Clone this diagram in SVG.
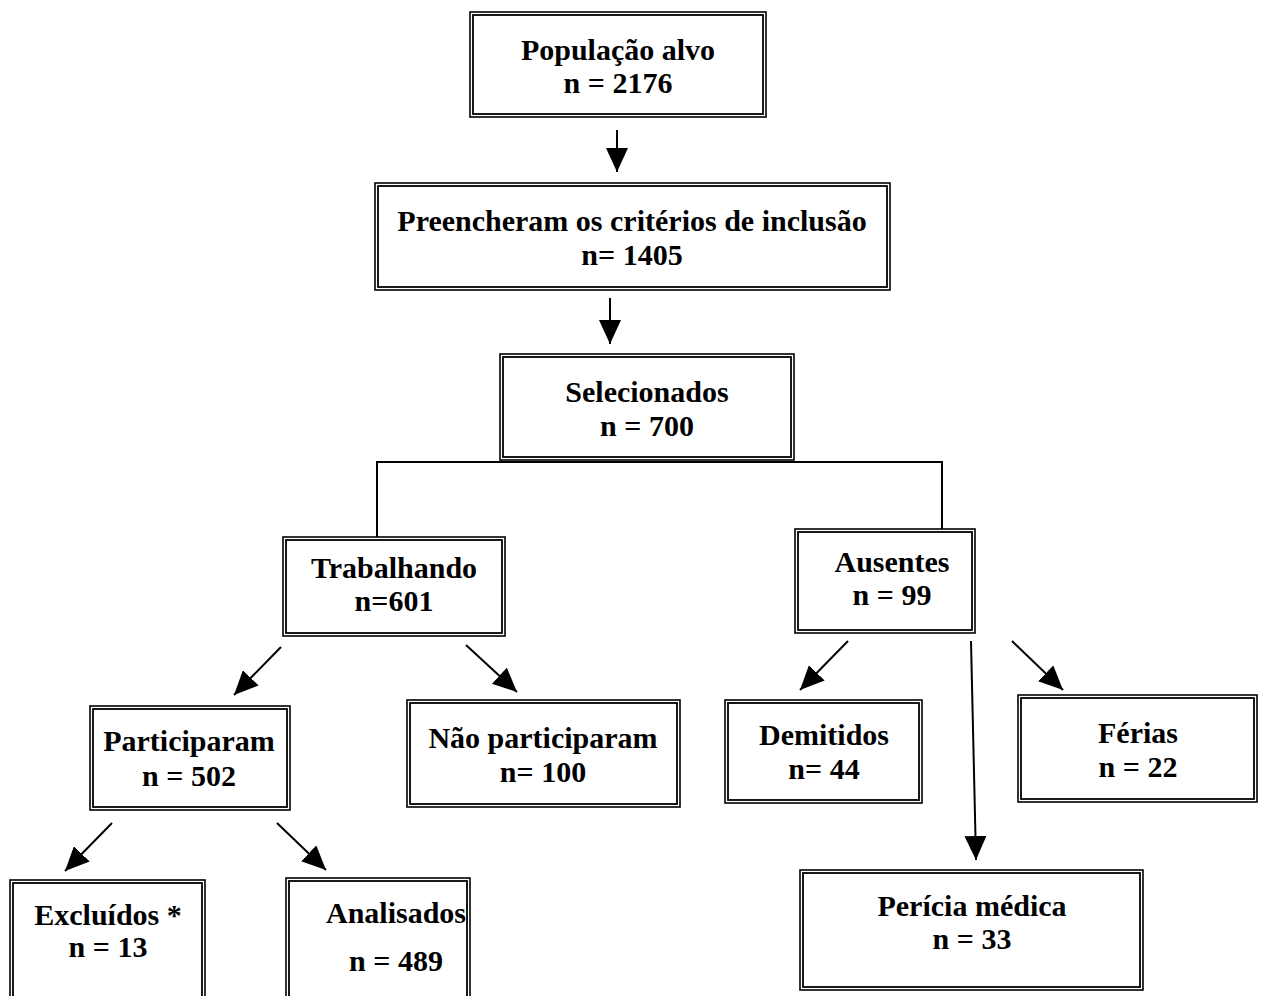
<svg xmlns="http://www.w3.org/2000/svg" width="1266" height="996" viewBox="0 0 1266 996">
<style>
.o{fill:none;stroke:#000;stroke-width:1.6}
.i{fill:none;stroke:#000;stroke-width:1.8}
.t{font-family:"Liberation Serif","Times New Roman",serif;font-weight:bold;font-size:30px;text-anchor:middle;fill:#000}
.c{fill:none;stroke:#000;stroke-width:2}
</style>
<defs>
<marker id="ah" markerUnits="userSpaceOnUse" markerWidth="26" markerHeight="22" refX="24" refY="11" orient="auto">
<path d="M0,0 L24,11 L0,22 Z" fill="#000"/>
</marker>
</defs>
<rect width="1266" height="996" fill="#fff"/>
<g id="connectors">
<line class="c" x1="617" y1="130" x2="617" y2="172" marker-end="url(#ah)"/>
<line class="c" x1="610" y1="298" x2="610" y2="344" marker-end="url(#ah)"/>
<polyline class="c" points="377,537 377,462 942,462 942,529"/>
<line class="c" x1="281" y1="647" x2="234" y2="695" marker-end="url(#ah)"/>
<line class="c" x1="466" y1="645" x2="517" y2="692" marker-end="url(#ah)"/>
<line class="c" x1="112" y1="823" x2="65" y2="871" marker-end="url(#ah)"/>
<line class="c" x1="277" y1="823" x2="326" y2="870" marker-end="url(#ah)"/>
<line class="c" x1="848" y1="641" x2="800" y2="690" marker-end="url(#ah)"/>
<line class="c" x1="1012" y1="641" x2="1063" y2="690" marker-end="url(#ah)"/>
<line class="c" x1="971" y1="641" x2="976" y2="860" marker-end="url(#ah)"/>
</g>
<g id="n1"><rect class="o" x="470" y="12" width="296" height="105"/><rect class="i" x="473" y="15" width="290" height="99"/>
<text class="t" x="618" y="60">População alvo</text><text class="t" x="618" y="93">n = 2176</text></g>
<g id="n2"><rect class="o" x="375" y="183" width="515" height="107"/><rect class="i" x="378" y="186" width="509" height="101"/>
<text class="t" x="632" y="231">Preencheram os critérios de inclusão</text><text class="t" x="632" y="265">n= 1405</text></g>
<g id="n3"><rect class="o" x="500" y="354" width="294" height="106"/><rect class="i" x="503" y="357" width="288" height="100"/>
<text class="t" x="647" y="402">Selecionados</text><text class="t" x="647" y="436">n = 700</text></g>
<g id="n4"><rect class="o" x="283" y="537" width="222" height="99"/><rect class="i" x="286" y="540" width="216" height="93"/>
<text class="t" x="394" y="578">Trabalhando</text><text class="t" x="394" y="611">n=601</text></g>
<g id="n5"><rect class="o" x="795" y="529" width="180" height="104"/><rect class="i" x="798" y="532" width="174" height="98"/>
<text class="t" x="892" y="572">Ausentes</text><text class="t" x="892" y="605">n = 99</text></g>
<g id="n6"><rect class="o" x="90" y="706" width="200" height="104"/><rect class="i" x="93" y="709" width="194" height="98"/>
<text class="t" x="189" y="751">Participaram</text><text class="t" x="189" y="786">n = 502</text></g>
<g id="n7"><rect class="o" x="407" y="700" width="273" height="107"/><rect class="i" x="410" y="703" width="267" height="101"/>
<text class="t" x="543" y="748">Não participaram</text><text class="t" x="543" y="782">n= 100</text></g>
<g id="n8"><rect class="o" x="725" y="700" width="197" height="103"/><rect class="i" x="728" y="703" width="191" height="97"/>
<text class="t" x="824" y="745">Demitidos</text><text class="t" x="824" y="779">n= 44</text></g>
<g id="n9"><rect class="o" x="1018" y="695" width="239" height="107"/><rect class="i" x="1021" y="698" width="233" height="101"/>
<text class="t" x="1138" y="743">Férias</text><text class="t" x="1138" y="777">n  = 22</text></g>
<g id="n10"><rect class="o" x="10" y="880" width="195" height="130"/><rect class="i" x="13" y="883" width="189" height="124"/>
<text class="t" x="108" y="925">Excluídos *</text><text class="t" x="108" y="957">n = 13</text></g>
<g id="n11"><rect class="o" x="286" y="878" width="184" height="130"/><rect class="i" x="289" y="881" width="178" height="124"/>
<text class="t" x="396" y="923" font-size="29">Analisados</text><text class="t" x="396" y="971">n = 489</text></g>
<g id="n12"><rect class="o" x="800" y="870" width="343" height="120"/><rect class="i" x="803" y="873" width="337" height="114"/>
<text class="t" x="972" y="916">Perícia médica</text><text class="t" x="972" y="949">n = 33</text></g>
</svg>
